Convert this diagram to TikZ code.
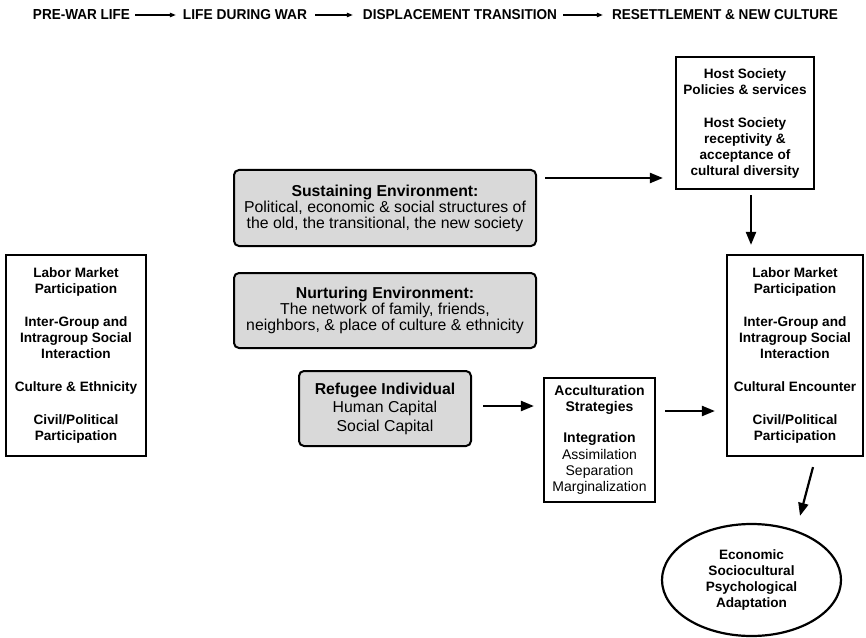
\documentclass[tikz,border=0pt]{standalone}
\usepackage{fontspec}
\setmainfont{Liberation Sans}
\usetikzlibrary{arrows.meta,shapes.geometric,calc}
\begin{document}
\begin{tikzpicture}[x=1bp,y=-1bp,
  hdr/.style={inner sep=0pt,anchor=center},
  hdrarr/.style={-{Triangle[length=6bp,width=4.5bp]},line width=1.1bp},
  arr/.style={-{Triangle[length=13bp,width=10bp]},line width=2.2bp},
  wbox/.style={draw,line width=2.2bp,align=center,inner sep=0pt,font=\bfseries\fontsize{13.6bp}{16bp}\selectfont},
  gbox/.style={draw,line width=2bp,fill=black!15,rounded corners=5bp,align=center,inner sep=0pt,font=\fontsize{15.8bp}{16bp}\selectfont},
]
\useasboundingbox (0,0) rectangle (866,638);
% header
\node[hdr] (h1) at (81.5,15) {\resizebox{97bp}{10bp}{\bfseries PRE-WAR LIFE}};
\node[hdr] (h2) at (245,15) {\resizebox{124bp}{10bp}{\bfseries LIFE DURING WAR}};
\node[hdr] (h3) at (460,15) {\resizebox{194bp}{10bp}{\bfseries DISPLACEMENT TRANSITION}};
\node[hdr] (h4) at (725,15) {\resizebox{226bp}{10bp}{\bfseries RESETTLEMENT \& NEW CULTURE}};
\draw[hdrarr] ([xshift=5bp]h1.east) -- ([xshift=-7bp]h2.west);
\draw[hdrarr] ([xshift=8bp]h2.east) -- ([xshift=-10bp]h3.west);
\draw[hdrarr] ([xshift=6bp]h3.east) -- ([xshift=-9bp]h4.west);
% boxes
\node[wbox,minimum width=140bp,minimum height=201bp] (left) at (76,355.5)
  {Labor Market\\Participation\\[17bp]Inter-Group and\\Intragroup Social\\Interaction\\[17bp]Culture \& Ethnicity\\[17bp]Civil/Political\\Participation};
\node[gbox,minimum width=302bp,minimum height=76bp] (sust) at (385,208)
  {\textbf{Sustaining Environment:}\\Political, economic \& social structures of\\the old, the transitional, the new society};
\node[gbox,minimum width=302bp,minimum height=75bp] (nurt) at (385,310.5)
  {\textbf{Nurturing Environment:}\\The network of family, friends,\\neighbors, \& place of culture \& ethnicity};
\node[gbox,minimum width=172bp,minimum height=75bp,font=\fontsize{15.8bp}{18.5bp}\selectfont] (ref) at (385,408.5)
  {\textbf{Refugee Individual}\\Human Capital\\Social Capital};
\node[wbox,font=\fontsize{14bp}{16.3bp}\selectfont,minimum width=111bp,minimum height=124bp] (acc) at (599.5,440)
  {\textbf{Acculturation}\\\textbf{Strategies}\\[14.7bp]\textbf{Integration}\\Assimilation\\Separation\\Marginalization};
\node[wbox,minimum width=138bp,minimum height=132bp] (host) at (745,123)
  {Host Society\\Policies \& services\\[17bp]Host Society\\receptivity \&\\acceptance of\\cultural diversity};
\node[wbox,minimum width=136bp,minimum height=201bp] (right) at (795,355.5)
  {Labor Market\\Participation\\[17bp]Inter-Group and\\Intragroup Social\\Interaction\\[17bp]Cultural Encounter\\[17bp]Civil/Political\\Participation};
\node[draw,ellipse,line width=2.2bp,minimum width=179bp,minimum height=112bp,inner sep=0pt,align=center,font=\bfseries\fontsize{13.6bp}{15.7bp}\selectfont] (ell) at (751.5,580)
  {Economic\\Sociocultural\\Psychological\\Adaptation};
% arrows
\draw[arr] ([xshift=8bp,yshift=30bp]sust.east) coordinate (a1) -- ([xshift=-12bp]a1 -| host.west);
\draw[arr] ([xshift=6bp,yshift=-5bp]host.south) coordinate (b1) -- ([yshift=9bp]b1 |- right.north);
\draw[arr] ([xshift=11bp,yshift=2.5bp]ref.east) coordinate (c1) -- ([xshift=-9bp]c1 -| acc.west);
\draw[arr] ([xshift=9bp,yshift=29bp]acc.east) coordinate (d1) -- ([xshift=-11bp]d1 -| right.west);
\draw[arr] ([xshift=18bp,yshift=-10bp]right.south) -- ([xshift=48.5bp,yshift=7bp]ell.north);
\end{tikzpicture}
\end{document}
